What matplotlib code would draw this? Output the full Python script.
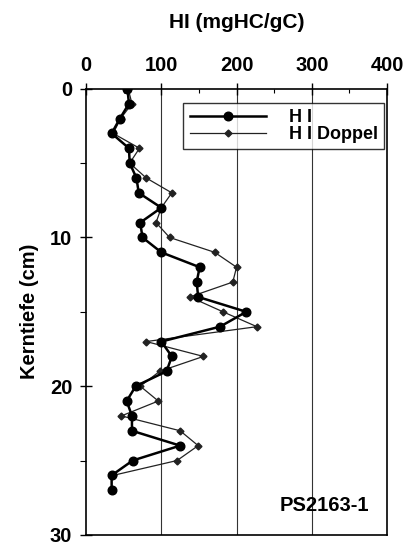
import numpy as np
import matplotlib.pyplot as plt
from matplotlib.ticker import MultipleLocator

plt.rcParams['font.family'] = ['Liberation Sans', 'DejaVu Sans']

# core depths (cm) and hydrogen index values
depth_hi = [0, 1, 2, 3, 4, 5, 6, 7, 8, 9, 10, 11, 12, 13, 14, 15, 16, 17, 18, 19,
            20, 21, 22, 23, 24, 25, 26, 27]
hi = [55, 57, 45, 34, 57, 58, 67, 70, 100, 72, 75, 100, 151, 147, 149, 213, 178,
      100, 114, 107, 66, 54, 61, 61, 125, 62, 34, 34]

depth_dup = [0, 1, 2, 3, 4, 5, 6, 7, 8, 9, 10, 11, 12, 13, 14, 15, 16, 17, 18, 19,
             20, 21, 22, 23, 24, 25, 26]
hi_dup = [56, 61, 46, 36, 71, 58, 80, 114, 100, 93, 111, 171, 200, 195, 138, 182,
          227, 80, 156, 98, 72, 96, 47, 125, 149, 121, 36]

x_ticks = [0, 100, 200, 300, 400]
y_ticks = [0, 10, 20, 30]

fig = plt.figure(figsize=(4.04, 5.48), dpi=100)
ax = fig.add_axes([0.213, 0.024, 0.745, 0.814])

for gx in [100, 200, 300]:
    ax.axvline(gx, color='#333333', lw=0.8, zorder=1)

ax.plot(hi, depth_hi, color='black', lw=1.8, marker='o', ms=6.2,
        label='H I', zorder=3)
ax.plot(hi_dup, depth_dup, color='#222222', lw=0.9, marker='D', ms=3.5,
        label='H I Doppel', zorder=2)

ax.set_xlim(0, 400)
ax.set_ylim(30, 0)
ax.xaxis.tick_top()
ax.xaxis.set_label_position('top')
ax.set_xticks(x_ticks)
ax.set_yticks(y_ticks)
ax.xaxis.set_minor_locator(MultipleLocator(50))
ax.yaxis.set_minor_locator(MultipleLocator(5))
ax.tick_params(axis='both', which='major', direction='inout', length=8,
               width=1, labelsize=14.5, pad=6)
ax.tick_params(axis='x', which='minor', direction='in', length=3, width=0.8)
ax.tick_params(axis='y', which='minor', direction='out', length=4, width=0.8)
for lab in ax.get_xticklabels() + ax.get_yticklabels():
    lab.set_fontweight('bold')

ax.set_xlabel('HI (mgHC/gC)', fontsize=15, fontweight='bold', labelpad=20)
ax.set_ylabel('Kerntiefe (cm)', fontsize=14.5, fontweight='bold', labelpad=8)

for s in ax.spines.values():
    s.set_linewidth(1.2)

leg = ax.legend(loc='upper right', bbox_to_anchor=(1.0, 0.975), frameon=True,
                fancybox=False, edgecolor='black', handlelength=4.2,
                prop={'weight': 'bold', 'size': 13}, borderpad=0.35,
                labelspacing=0.0, handletextpad=1.3, borderaxespad=0.15)
leg.get_frame().set_linewidth(1.0)

ax.text(0.94, 0.045, 'PS2163-1', transform=ax.transAxes, ha='right',
        va='bottom', fontsize=14.5, fontweight='bold')

fig.savefig('out.png', dpi=100)
